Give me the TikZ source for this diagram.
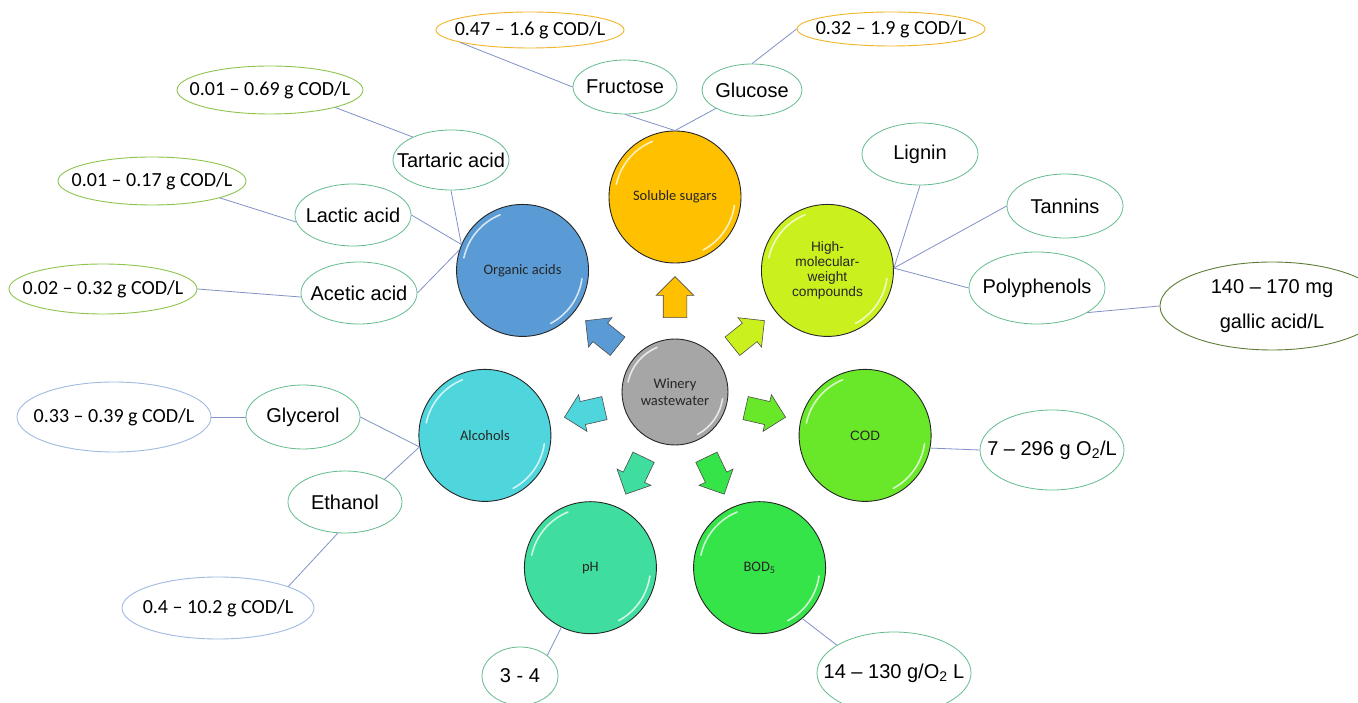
\documentclass[tikz,border=0pt]{standalone}
\usepackage{fontspec}
\setmainfont{Liberation Sans}
\newfontfamily\carl{Carlito}
\usetikzlibrary{shapes.geometric,shapes.arrows,calc}
\definecolor{csug}{RGB}{255,192,0}
\definecolor{corg}{RGB}{91,155,213}
\definecolor{calco}{RGB}{78,214,220}
\definecolor{cph}{RGB}{64,222,158}
\definecolor{cbod}{RGB}{52,228,72}
\definecolor{ccod}{RGB}{104,232,40}
\definecolor{chmw}{RGB}{202,240,30}
\definecolor{cgray}{RGB}{166,166,166}
\definecolor{cteal}{RGB}{100,188,142}
\definecolor{corl}{RGB}{240,182,40}
\definecolor{cgrl}{RGB}{142,196,78}
\definecolor{cbll}{RGB}{160,186,226}
\definecolor{coll}{RGB}{95,125,55}
\definecolor{cline}{RGB}{130,145,200}
\newcommand\zb[1]{\makebox[0pt]{#1}}
\begin{document}
\begin{tikzpicture}[x=1pt,y=1pt,
  hl/.style={path picture={
      \draw[white, opacity=0.75, line width=1.6pt, line cap=round]
        ($(path picture bounding box.center)+(168:#1)$) arc[start angle=168, end angle=112, radius=#1];
      \draw[white, opacity=0.75, line width=1.6pt, line cap=round]
        ($(path picture bounding box.center)+(-8:#1)$) arc[start angle=-8, end angle=-62, radius=#1];
    }},
  ball/.style={circle, draw=black!85, line width=0.9pt, fill=#1, minimum size=132pt,
    inner sep=0pt, align=center, text=black!85, font=\carl\fontsize{14.5}{17}\selectfont, hl=60},
  arr/.style={single arrow, draw=black!70, line width=0.6pt, fill=#1, minimum height=41pt,
    minimum width=36pt, single arrow head extend=7pt, single arrow head indent=0pt,
    inner xsep=0pt, inner ysep=11.5pt},
  lbl/.style={ellipse, draw=cteal, line width=0.8pt, inner sep=0pt, fill=white,
    font=\fontsize{20}{24}\selectfont},
  val/.style={ellipse, draw=#1, line width=0.9pt, inner sep=0pt, fill=white,
    font=\carl\fontsize{20}{24}\selectfont},
  con/.style={draw=cline, line width=0.8pt}]
\fill[white] (0,0) rectangle (1358,702);
\useasboundingbox (0,0) rectangle (1358,702);

% centre and main circles
\node[ball=cgray, minimum size=106pt, hl=48] (W) at (675,310) {Winery\\wastewater};
\node[ball=csug] (sug) at ($(W)+(90:195)$) {Soluble sugars};
\node[ball=corg] (org) at ($(W)+(141.43:195)$) {Organic acids};
\node[ball=calco] (alc) at ($(W)+(192.86:195)$) {Alcohols};
\node[ball=cph] (ph) at ($(W)+(244.29:195)$) {pH};
\node[ball=cbod] (bod) at ($(W)+(295.71:195)$) {BOD\textsubscript{5}};
\node[ball=ccod, font=\fontsize{13.5}{15}\selectfont] (cod) at ($(W)+(347.14:195)$) {COD};
\node[ball=chmw, font=\fontsize{13.7}{15}\selectfont] (hmw) at ($(W)+(38.57:195)$) {High-\\molecular-\\weight\\compounds};

% block arrows
\node[arr=csug, rotate=90] (a1) at ($(W)+(90:89)$) {};
\node[arr=corg, rotate=141.43] (a2) at ($(W)+(141.43:88)$) {};
\node[arr=calco, rotate=192.86] (a3) at ($(W)+(192.86:87)$) {};
\node[arr=cph, rotate=244.29] (a4) at ($(W)+(244.29:87)$) {};
\node[arr=cbod, rotate=295.71] (a5) at ($(W)+(295.71:87)$) {};
\node[arr=ccod, rotate=347.14] (a6) at ($(W)+(347.14:87)$) {};
\node[arr=chmw, rotate=38.57] (a7) at ($(W)+(38.57:88)$) {};

% soluble sugars
\node[lbl, minimum width=104pt, minimum height=54pt] (fru) at (625,615) {\zb{Fructose}};
\node[lbl, minimum width=100pt, minimum height=52pt] (glu) at (752,612) {\zb{Glucose}};
\node[val=corl, minimum width=188pt, minimum height=36pt] (vfru) at (530,672) {\zb{0.47 – 1.6 g COD/L}};
\node[val=corl, minimum width=188pt, minimum height=34pt] (vglu) at (891,673) {\zb{0.32 – 1.9 g COD/L}};

% organic acids
\node[lbl, minimum width=116pt, minimum height=60pt] (tar) at (451,542) {\zb{Tartaric acid}};
\node[lbl, minimum width=116pt, minimum height=62pt] (lac) at (353,487) {\zb{Lactic acid}};
\node[lbl, minimum width=116pt, minimum height=62pt] (ace) at (359,409) {\zb{Acetic acid}};
\node[val=cgrl, minimum width=186pt, minimum height=48pt] (vtar) at (270,612) {\zb{0.01 – 0.69 g COD/L}};
\node[val=cgrl, minimum width=188pt, minimum height=48pt] (vlac) at (152,521) {\zb{0.01 – 0.17 g COD/L}};
\node[val=cgrl, minimum width=188pt, minimum height=50pt] (vace) at (103,413) {\zb{0.02 – 0.32 g COD/L}};

% high-molecular-weight compounds
\node[lbl, minimum width=116pt, minimum height=62pt] (lig) at (920,548) {\zb{Lignin}};
\node[lbl, minimum width=116pt, minimum height=64pt] (tan) at (1065,496) {\zb{Tannins}};
\node[lbl, minimum width=136pt, minimum height=72pt] (pol) at (1037,414) {\zb{Polyphenols}};
\node[ellipse, draw=coll, line width=0.9pt, inner sep=0pt, fill=white, font=\fontsize{20}{24}\selectfont,
  minimum width=224pt, minimum height=88pt] (vpol) at (1272,396)
  {\zb{\begin{tabular}{@{}c@{}}140 – 170 mg\\[11pt]gallic acid/L\end{tabular}}};

% COD, BOD, pH
\node[lbl, minimum width=144pt, minimum height=80pt] (vcod) at (1052,252) {\zb{7 – 296 g O\textsubscript{2}/L}};
\node[lbl, minimum width=154pt, minimum height=82pt] (vbod) at (894,29) {\zb{14 – 130 g/O\textsubscript{2} L}};
\node[lbl, minimum width=76pt, minimum height=58pt] (vph) at (520,26) {\zb{3 - 4}};

% alcohols
\node[lbl, minimum width=114pt, minimum height=64pt] (gly) at (303,285) {\zb{Glycerol}};
\node[lbl, minimum width=114pt, minimum height=62pt] (eth) at (345,200) {\zb{Ethanol}};
\node[val=cbll, minimum width=194pt, minimum height=70pt] (vgly) at (114,285) {\zb{0.33 – 0.39 g COD/L}};
\node[val=cbll, minimum width=192pt, minimum height=62pt] (veth) at (218,94) {\zb{0.4 – 10.2 g COD/L}};

% connectors
\draw[con] (sug.north) -- (fru.south);
\draw[con] (sug.north) -- (glu.207);
\draw[con] (fru.west) -- (vfru.190);
\draw[con] (glu.north) -- (vglu.west);
\draw[con] (org.157) -- (tar.south);
\draw[con] (org.157) -- (lac.east);
\draw[con] (org.162) -- (ace.east);
\draw[con] (tar.149) -- (vtar.-15);
\draw[con] (lac.187) -- (vlac.-14);
\draw[con] (ace.184) -- (vace.east);
\draw[con] (hmw.2) -- (lig.south);
\draw[con] (hmw.2) -- (tan.west);
\draw[con] (hmw.2) -- (pol.west);
\draw[con] (pol.-26) -- (vpol.west);
\draw[con] (cod.-11) -- (vcod.west);
\draw[con] (bod.-50) -- (vbod.154);
\draw[con] (ph.-116) -- (vph.37);
\draw[con] (alc.190) -- (gly.east);
\draw[con] (alc.190) -- (eth.30);
\draw[con] (gly.west) -- (vgly.east);
\draw[con] (eth.-103) -- (veth.17);
\end{tikzpicture}
\end{document}
